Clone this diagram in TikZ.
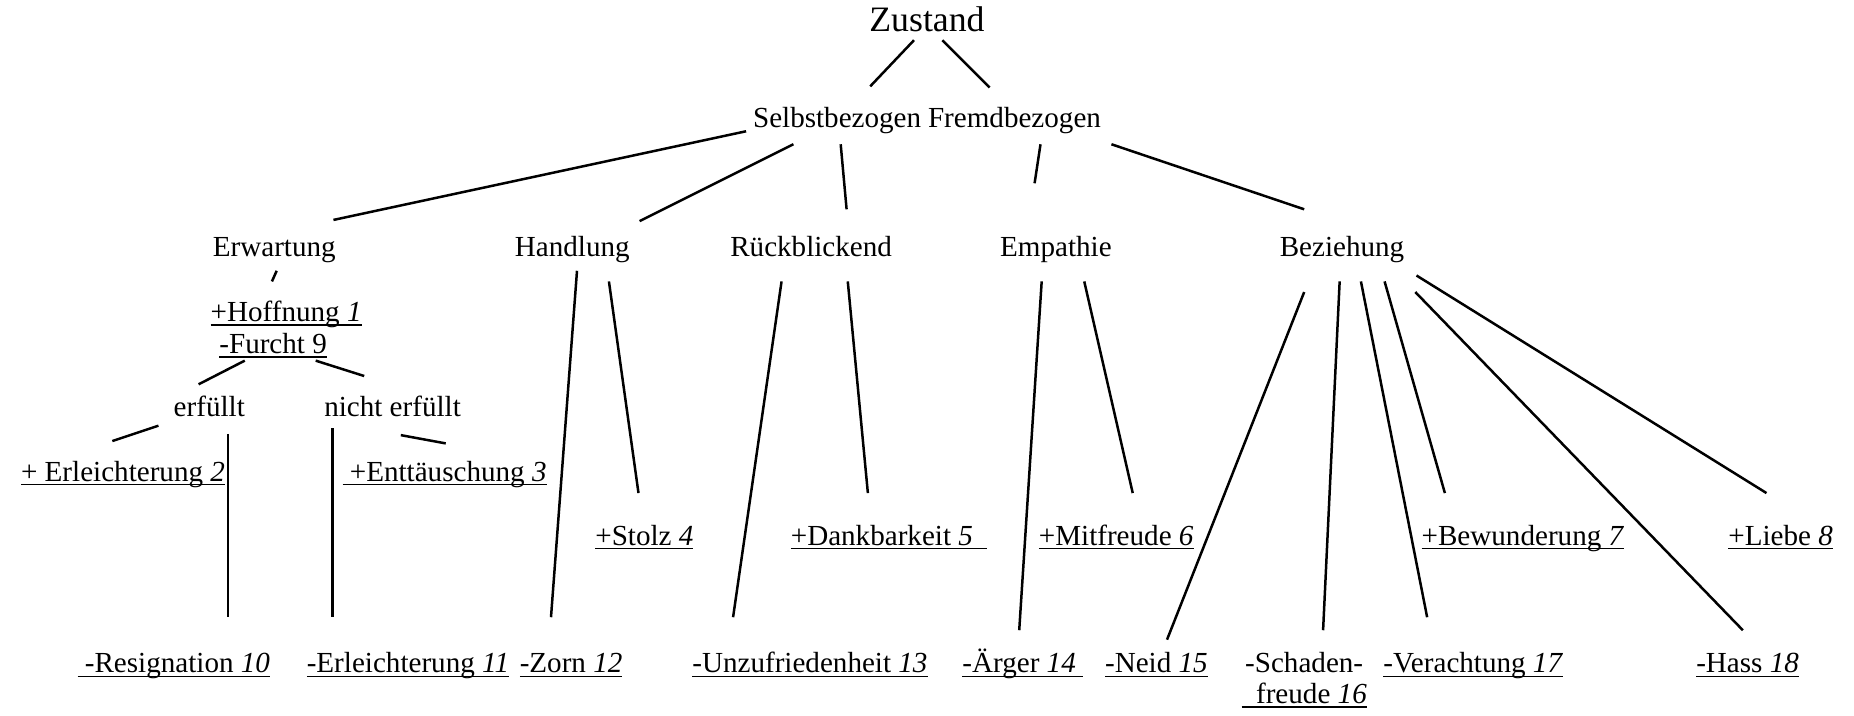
\documentclass[tikz,border=0pt]{standalone}
\usepackage{fontspec}
\setmainfont{Liberation Serif}
\newcommand\uln[1]{\setbox0\hbox{#1}\rlap{\rule[-0.14em]{\wd0}{0.045em}}\box0}

\begin{document}
\begin{tikzpicture}[x=0.01cm,y=-0.01cm,
  lbl/.style={anchor=base,inner sep=0pt,font=\fontsize{7pt}{7.5pt}\selectfont},
  big/.style={anchor=base,inner sep=0pt,font=\fontsize{8.6pt}{9pt}\selectfont},
  every edge/.style={draw,line width=0.6pt}]
\useasboundingbox (0,0) rectangle (1568,605);

\node(zustand)       at (784,27)[big]   {Zustand};
\node(selbst)        at (708,108)[lbl]  {Selbstbezogen};
\node(fremd)         at (858,108)[lbl]  {Fremdbezogen};
\node(erwartung)     at (232,217)[lbl]  {Erwartung};
\node(handlung)      at (484,217)[lbl]  {Handlung};
\node(rueck)         at (686,217)[lbl]  {Rückblickend};
\node(empathie)      at (893,217)[lbl]  {Empathie};
\node(beziehung)     at (1135,217)[lbl] {Beziehung};
\node(e1)            at (242,272)[lbl]  {\uln{+Hoffnung \textit{1}}};
\node(e9)            at (231,299)[lbl]  {\uln{-Furcht 9}};
\node(erfuellt)      at (177,352)[lbl]  {erfüllt};
\node(nichterfuellt) at (332,352)[lbl]  {nicht erfüllt};
\node(e2)            at (104,407)[lbl]  {\uln{+ Erleichterung \textit{2}}};
\node(e3)            at (376,407)[lbl]  {\uln{\ +Enttäuschung \textit{3}}};
\node(e4)            at (545,461)[lbl]  {\uln{+Stolz \textit{4}}};
\node(e5)            at (752,461)[lbl]  {\uln{+Dankbarkeit \textit{5}\ \ }};
\node(e6)            at (944,461)[lbl]  {\uln{+Mitfreude \textit{6}}};
\node(e7)            at (1288,461)[lbl] {\uln{+Bewunderung \textit{7}}};
\node(e8)            at (1506,461)[lbl] {\uln{+Liebe \textit{8}}};
\node(e10)           at (147,569)[lbl]  {\uln{\ -Resignation \textit{10}}};
\node(e11)           at (345,569)[lbl]  {\uln{-Erleichterung \textit{11}}};
\node(e12)           at (483,569)[lbl]  {\uln{-Zorn \textit{12}}};
\node(e13)           at (685,569)[lbl]  {\uln{-Unzufriedenheit \textit{13}}};
\node(e14)           at (865,569)[lbl]  {\uln{-Ärger \textit{14}\ }};
\node(e15)           at (978,569)[lbl]  {\uln{-Neid \textit{15}}};
\node(e16)           at (1103,595)[lbl,align=center] {-Schaden-\\\uln{\ \ freude \textit{16}}};
\node(e17)           at (1246,569)[lbl] {\uln{-Verachtung \textit{17}}};
\node(e18)           at (1478,569)[lbl] {\uln{-Hass \textit{18}}};

\path
  ([shift={(-11,7)}]zustand.base)       edge ([shift={(28,-35)}]selbst.base)
  ([shift={(13,7)}]zustand.base)        edge ([shift={(-21,-34)}]fremd.base)
  ([shift={(-77,3)}]selbst.base)        edge ([shift={(50,-31)}]erwartung.base)
  ([shift={(-37,14)}]selbst.base)       edge ([shift={(57,-30)}]handlung.base)
  ([shift={(3,14)}]selbst.base)         edge ([shift={(30,-40)}]rueck.base)
  ([shift={(22,14)}]fremd.base)         edge ([shift={(-18,-62)}]empathie.base)
  ([shift={(82,14)}]fremd.base)         edge ([shift={(-32,-40)}]beziehung.base)
  ([shift={(2,12)}]erwartung.base)      edge ([shift={(-12,-34)}]e1.base)
  ([shift={(-24,6)}]e9.base)            edge ([shift={(-9,-27)}]erfuellt.base)
  ([shift={(36,6)}]e9.base)             edge ([shift={(-24,-34)}]nichterfuellt.base)
  ([shift={(-43,8)}]erfuellt.base)      edge ([shift={(-9,-34)}]e2.base)
  ([shift={(16,15)}]erfuellt.base)      edge ([shift={(46,-47)}]e10.base)
  ([shift={(-51,10)}]nichterfuellt.base) edge ([shift={(-64,-47)}]e11.base)
  ([shift={(7,16)}]nichterfuellt.base)  edge ([shift={(1,-32)}]e3.base)
  ([shift={(4,12)}]handlung.base)       edge ([shift={(-17,-47)}]e12.base)
  ([shift={(31,21)}]handlung.base)      edge ([shift={(-5,-44)}]e4.base)
  ([shift={(-25,21)}]rueck.base)        edge ([shift={(-65,-47)}]e13.base)
  ([shift={(31,21)}]rueck.base)         edge ([shift={(-18,-44)}]e5.base)
  ([shift={(-12,21)}]empathie.base)     edge ([shift={(-3,-36)}]e14.base)
  ([shift={(24,21)}]empathie.base)      edge ([shift={(14,-44)}]e6.base)
  ([shift={(-32,30)}]beziehung.base)    edge ([shift={(9,-28)}]e15.base)
  ([shift={(-2,21)}]beziehung.base)     edge ([shift={(16,-62)}]e16.base)
  ([shift={(16,21)}]beziehung.base)     edge ([shift={(-39,-47)}]e17.base)
  ([shift={(36,21)}]beziehung.base)     edge ([shift={(-66,-44)}]e7.base)
  ([shift={(62,30)}]beziehung.base)     edge ([shift={(-4,-36)}]e18.base)
  ([shift={(63,16)}]beziehung.base)     edge ([shift={(-12,-44)}]e8.base);

\end{tikzpicture}
\end{document}
